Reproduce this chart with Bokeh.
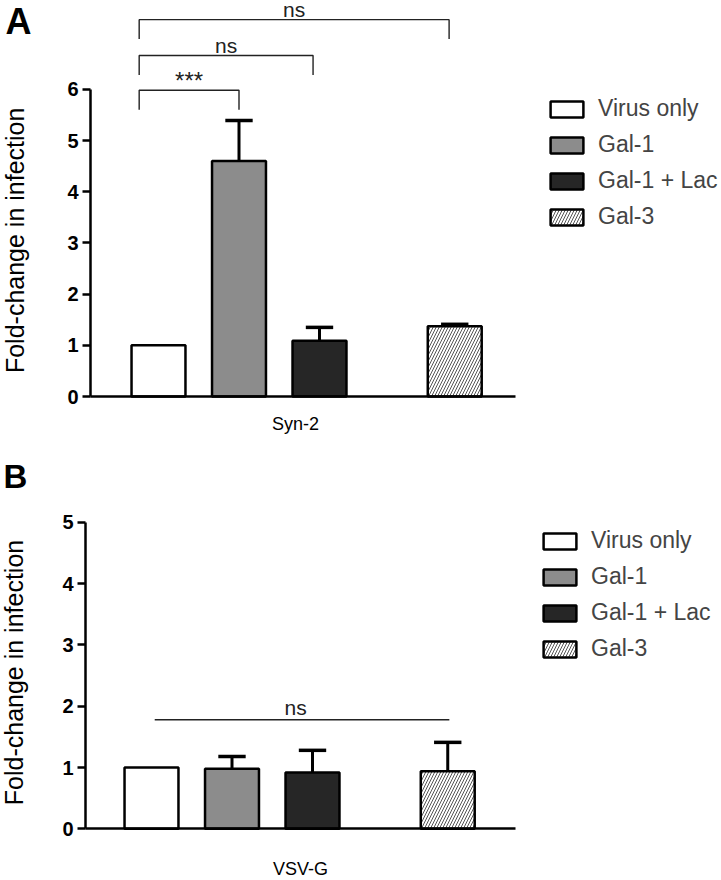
import math
from bokeh.plotting import figure
from bokeh.models import Range1d, FixedTicker, Legend, LegendItem, Label, ColumnDataSource
from bokeh.layouts import column
from bokeh.embed import file_html
from bokeh.resources import INLINE

# ---------------- data ----------------
groups = ["Virus only", "Gal-1", "Gal-1 + Lac", "Gal-3"]
syn2_mean = [1.0, 4.60, 1.09, 1.37]
syn2_sem = [0.0, 0.79, 0.26, 0.04]
vsvg_mean = [1.0, 0.98, 0.92, 0.94]
vsvg_sem = [0.0, 0.20, 0.36, 0.47]
syn2_yticks = [0, 1, 2, 3, 4, 5, 6]
vsvg_yticks = [0, 1, 2, 3, 4, 5]
syn2_tests = ["***", "ns", "ns"]   # Virus only vs Gal-1, Gal-1 + Lac, Gal-3
vsvg_tests = ["ns"]                # all groups
syn2_label = "Syn-2"
vsvg_label = "VSV-G"
y_title = "Fold-change in infection"

# ---------------- style / layout ----------------
FONT = "Liberation Sans"
W = 721
slots = [1.0, 2.0, 3.0, 4.68]
fills = ["white", "#8c8c8c", "#262626", "white"]
hatches = [" ", " ", " ", "/"]
BAR_W = 0.67
CAP = 0.17


def make_panel(means, sems, yticks, xlabel, letter, *, height, x0, y0, y1,
               yaxis_x, axis_x1, letter_size, letter_xy, legend_xy,
               xlabel_xy, ytitle_xy):
    x1 = x0 + W / 80.5
    p = figure(width=W, height=height, x_range=Range1d(x0, x1),
               y_range=Range1d(y0, y1), output_backend="svg",
               toolbar_location=None, min_border=0)
    p.outline_line_color = None
    p.grid.visible = False

    ya = p.yaxis[0]
    ya.fixed_location = yaxis_x
    ya.bounds = (0, yticks[-1])
    ya.ticker = FixedTicker(ticks=yticks)
    ya.minor_tick_line_color = None
    ya.major_tick_in = 0
    ya.major_tick_out = 8
    ya.major_tick_line_width = 2.5
    ya.axis_line_width = 2.5
    ya.major_label_text_font = FONT
    ya.major_label_text_font_size = "20px"
    ya.major_label_text_font_style = "bold"
    ya.major_label_text_color = "black"
    ya.major_label_standoff = 4

    xa = p.xaxis[0]
    xa.fixed_location = 0
    xa.bounds = (yaxis_x, axis_x1)
    xa.ticker = FixedTicker(ticks=[])
    xa.minor_tick_line_color = None
    xa.major_tick_line_color = None
    xa.axis_line_width = 2.5

    src = ColumnDataSource(dict(x=slots, top=means, fill=fills, hatch=hatches))
    r = p.vbar(x="x", top="top", bottom=0, width=BAR_W, source=src,
               fill_color="fill", line_color="black", line_width=2.5,
               hatch_pattern="hatch", hatch_color="#555555", hatch_weight=1,
               hatch_scale=6)

    ex = [x for x, e in zip(slots, sems) if e > 0]
    ey0 = [m for m, e in zip(means, sems) if e > 0]
    ey1 = [m + e for m, e in zip(means, sems) if e > 0]
    p.segment(x0=ex, y0=ey0, x1=ex, y1=ey1, line_color="black", line_width=3)
    p.segment(x0=[x - CAP for x in ex], y0=ey1, x1=[x + CAP for x in ex],
              y1=ey1, line_color="black", line_width=3.5)

    legend = Legend(items=[LegendItem(label=g, renderers=[r], index=i)
                           for i, g in enumerate(groups)],
                    location=legend_xy, glyph_width=41, glyph_height=20,
                    label_text_font=FONT, label_text_font_size="23px",
                    label_height=27, spacing=9, label_standoff=11,
                    padding=0, margin=0, border_line_color=None,
                    background_fill_alpha=0)
    p.add_layout(legend)

    p.add_layout(Label(x=letter_xy[0], y=letter_xy[1], text=letter,
                       text_font=FONT, text_font_size=letter_size,
                       text_font_style="bold", text_baseline="alphabetic",
                       text_color="black"))
    p.add_layout(Label(x=xlabel_xy[0], y=xlabel_xy[1], text=xlabel,
                       text_font=FONT, text_font_size="18px",
                       text_align="center", text_baseline="top",
                       text_color="black"))
    p.add_layout(Label(x=ytitle_xy[0], y=ytitle_xy[1], text=y_title,
                       angle=math.pi / 2, text_font=FONT,
                       text_font_size="25px", text_align="center",
                       text_baseline="middle", text_color="black"))
    return p


# ---------------- panel A ----------------
ax0 = 1 - 158 / 80.5
pa = make_panel(syn2_mean, syn2_sem, syn2_yticks, syn2_label, "A",
                height=442, x0=ax0, y0=-46 / 51.2, y1=396 / 51.2,
                yaxis_x=ax0 + 90 / 80.5, axis_x1=ax0 + 515 / 80.5,
                letter_size="36px", letter_xy=(ax0 + 5 / 80.5, 7.32),
                legend_xy=(546, 212), xlabel_xy=(ax0 + 295 / 80.5, -0.35),
                ytitle_xy=(ax0 + 14 / 80.5, 3.05))

left = slots[0] - 0.24
rights = [slots[1], slots[2] - 0.08, slots[3] - 0.07]
tops = [5.98, 6.66, 7.36]
leg = 0.38
pa.multi_line(xs=[[left, left, rr, rr] for rr in rights],
              ys=[[t - leg, t, t, t - leg] for t in tops],
              line_color="#222222", line_width=1.4)
for rr, t, s in zip(rights, tops, syn2_tests):
    pa.add_layout(Label(x=(left + rr) / 2, y=t, text=s, text_font=FONT,
                        text_font_size="24px" if s == "***" else "21px",
                        text_align="center", text_baseline="bottom",
                        y_offset=-4 if s == "***" else -1,
                        text_color="#222222"))

# ---------------- panel B ----------------
bx0 = 1 - 151 / 80.5
pb = make_panel(vsvg_mean, vsvg_sem, vsvg_yticks, vsvg_label, "B",
                height=438, x0=bx0, y0=-51.7 / 61.3, y1=386.3 / 61.3,
                yaxis_x=bx0 + 85 / 80.5, axis_x1=bx0 + 515 / 80.5,
                letter_size="33px", letter_xy=(bx0 + 3 / 80.5, 5.746),
                legend_xy=(539, 218), xlabel_xy=(bx0 + 300 / 80.5, -0.485),
                ytitle_xy=(bx0 + 13 / 80.5, 2.55))

bl, br, by = slots[0] + 0.04, slots[3] + 0.02, 1.78
pb.line(x=[bl, br], y=[by, by], line_color="#222222", line_width=1.4)
pb.add_layout(Label(x=(bl + br) / 2 - 0.08, y=by, text=vsvg_tests[0],
                    text_font=FONT, text_font_size="21px", text_align="center",
                    text_baseline="bottom", y_offset=1, text_color="#222222"))

layout = column(pa, pb, spacing=0)
open("out.html", "w").write(file_html(layout, INLINE))
